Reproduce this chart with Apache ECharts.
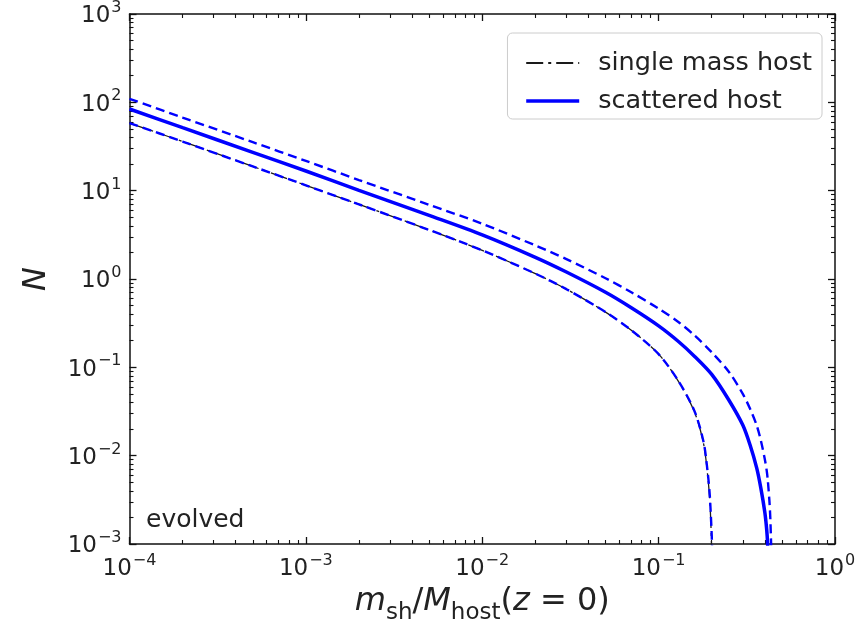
<!DOCTYPE html>
<html>
<head>
<meta charset="utf-8">
<script src="https://cdn.jsdelivr.net/npm/echarts@6/dist/echarts.min.js"></script>
<style>
  html, body { margin: 0; padding: 0; background: #ffffff; }
  #chart { width: 867px; height: 619px; }
</style>
</head>
<body>
<div id="chart"></div>
<script>
// Subhalo mass ratio m_sh / M_host(z=0) and cumulative counts N(> m_sh)

// Scattered host: median
const xScattered = [1e-4, 2e-4, 5e-4, 1e-3, 2e-3, 5e-3, 1e-2, 2e-2, 3e-2, 5e-2, 7e-2, 0.1, 0.13, 0.16, 0.2, 0.25, 0.3, 0.33, 0.36, 0.38, 0.40, 0.41, 0.415, 0.418];
const nScattered = [84.1, 51.6, 27.2, 16.7, 10.1, 5.25, 3.16, 1.76, 1.20, 0.708, 0.473, 0.295, 0.195, 0.133, 0.0832, 0.0427, 0.0222, 0.0132, 0.00724, 0.00427, 0.00229, 0.00145, 0.00100, 0.0006];

// Scattered host: upper envelope
const xUpper = [1e-4, 2e-4, 5e-4, 1e-3, 2e-3, 5e-3, 1e-2, 2e-2, 3e-2, 5e-2, 7e-2, 0.1, 0.13, 0.16, 0.2, 0.25, 0.3, 0.33, 0.36, 0.38, 0.40, 0.41, 0.416, 0.425, 0.43, 0.435];
const nUpper = [109.6, 67.3, 35.4, 21.7, 13.2, 6.92, 4.22, 2.40, 1.68, 1.02, 0.708, 0.462, 0.324, 0.229, 0.148, 0.0891, 0.0501, 0.0339, 0.0219, 0.0148, 0.00912, 0.00676, 0.00525, 0.00302, 0.00191, 0.00089];

// Scattered host: lower envelope
const xLower = [1e-4, 2e-4, 5e-4, 1e-3, 2e-3, 5e-3, 1e-2, 2e-2, 3e-2, 5e-2, 7e-2, 0.1, 0.13, 0.16, 0.18, 0.19, 0.195, 0.2, 0.202];
const nLower = [58.3, 36.0, 18.8, 11.5, 7.0, 3.59, 2.11, 1.15, 0.767, 0.422, 0.263, 0.141, 0.0692, 0.0316, 0.0141, 0.00631, 0.00355, 0.00126, 0.00063];

// Single mass host
const xSingle = [1e-4, 2e-4, 5e-4, 1e-3, 2e-3, 5e-3, 1e-2, 2e-2, 3e-2, 5e-2, 7e-2, 0.1, 0.13, 0.16, 0.18, 0.19, 0.195, 0.198, 0.2];
const nSingle = [58.3, 36.0, 18.8, 11.5, 7.0, 3.59, 2.11, 1.15, 0.767, 0.422, 0.263, 0.141, 0.0685, 0.0310, 0.0135, 0.0058, 0.0031, 0.0016, 0.0008];

// Axis ranges (one labelled tick per decade)
const xRange = [1e-4, 1];
const yRange = [1e-3, 1e3];

const pairs = (xs, ys) => xs.map((x, i) => [x, ys[i]]);

const FONT = 'DejaVu Sans';
const TXT = '#222222';
const BLUE = '#0000ff';
const FRAME = '#111111';

const powerLabel = {
  show: true,
  color: TXT,
  formatter: v => {
    const e = Math.round(Math.log10(v));
    return '{b|10}{s|' + (e < 0 ? '\u2212' + (-e) : e) + '}';
  },
  rich: {
    b: { fontFamily: FONT, fontSize: 23, color: TXT, lineHeight: 28, verticalAlign: 'bottom' },
    s: { fontFamily: FONT, fontSize: 16, color: TXT, lineHeight: 28, verticalAlign: 'top', padding: [0, 0, 0, 1] }
  }
};

// Log axis with inward major ticks at each decade and minor ticks at 2..9
function logAxis(range, position, withLabels, extra) {
  return Object.assign({
    type: 'log',
    min: range[0],
    max: range[1],
    position: position,
    splitLine: { show: false },
    axisLine: { show: true, lineStyle: { color: FRAME, width: 1.5 } },
    axisTick: { show: true, inside: true, length: 7, lineStyle: { color: FRAME, width: 1.3 } },
    minorTick: { show: true, splitNumber: 9, length: 4, lineStyle: { color: FRAME, width: 1.1 } },
    axisLabel: withLabels ? Object.assign({ margin: position === 'bottom' ? 9 : 8 }, powerLabel) : { show: false }
  }, extra || {});
}

const chart = echarts.init(document.getElementById('chart'));

chart.setOption({
  animation: false,
  backgroundColor: '#ffffff',
  grid: { left: 129.5, right: 32, top: 14, bottom: 75, containLabel: false, outerBoundsMode: 'none' },
  xAxis: [
    logAxis(xRange, 'bottom', true, {
      name: '{i|m}{sub|sh}{r|/}{i|M}{sub|host}{r|(}{i|z}{r| = 0)}',
      nameLocation: 'middle',
      nameGap: 31,
      nameTextStyle: {
        rich: {
          i: { fontFamily: FONT, fontStyle: 'italic', fontSize: 32, color: TXT, lineHeight: 38, verticalAlign: 'bottom' },
          r: { fontFamily: FONT, fontSize: 32, color: TXT, lineHeight: 38, verticalAlign: 'bottom' },
          sub: { fontFamily: FONT, fontSize: 23, color: TXT, lineHeight: 38, verticalAlign: 'bottom', padding: [0, 0, -7, 0] }
        }
      }
    }),
    logAxis(xRange, 'top', false)
  ],
  yAxis: [
    logAxis(yRange, 'left', true, {
      name: 'N',
      nameLocation: 'middle',
      nameGap: 77,
      nameRotate: 90,
      nameTextStyle: { fontFamily: FONT, fontStyle: 'italic', fontSize: 32, color: TXT }
    }),
    logAxis(yRange, 'right', false)
  ],
  legend: {
    orient: 'vertical',
    right: 45,
    top: 33,
    data: [
      { name: 'single mass host', lineStyle: { width: 2 } },
      { name: 'scattered host', lineStyle: { width: 3.5 } }
    ],
    backgroundColor: 'rgba(255,255,255,0.85)',
    borderColor: '#cccccc',
    borderWidth: 1,
    borderRadius: 5,
    padding: [17, 10, 5, 17],
    itemWidth: 53,
    itemHeight: 20,
    itemGap: 12,
    selectedMode: false,
    itemStyle: { opacity: 0 },
    textStyle: { fontFamily: FONT, fontSize: 25.5, lineHeight: 20, color: TXT, padding: [0, 0, 0, 14] }
  },
  graphic: [{
    type: 'text',
    left: 146,
    top: 508,
    style: { text: 'evolved', font: '25px "DejaVu Sans"', fill: TXT }
  }],
  series: [
    {
      name: 'single mass host',
      type: 'line',
      data: pairs(xSingle, nSingle),
      showSymbol: false,
      symbol: 'none',
      smooth: 0.3,
      clip: true,
      lineStyle: { color: '#1a1a1a', width: 1.3, type: [17, 5, 3, 5] },
      itemStyle: { color: '#000000' }
    },
    {
      name: 'scattered host (lower)',
      type: 'line',
      data: pairs(xLower, nLower),
      showSymbol: false,
      symbol: 'none',
      smooth: 0.3,
      clip: true,
      lineStyle: { color: BLUE, width: 2.4, type: [9, 5] }
    },
    {
      name: 'scattered host (upper)',
      type: 'line',
      data: pairs(xUpper, nUpper),
      showSymbol: false,
      symbol: 'none',
      smooth: 0.3,
      clip: true,
      lineStyle: { color: BLUE, width: 2.4, type: [9, 5] }
    },
    {
      name: 'scattered host',
      type: 'line',
      data: pairs(xScattered, nScattered),
      showSymbol: false,
      symbol: 'none',
      smooth: 0.3,
      clip: true,
      lineStyle: { color: BLUE, width: 3.5 },
      itemStyle: { color: BLUE }
    }
  ]
});
</script>
</body>
</html>
